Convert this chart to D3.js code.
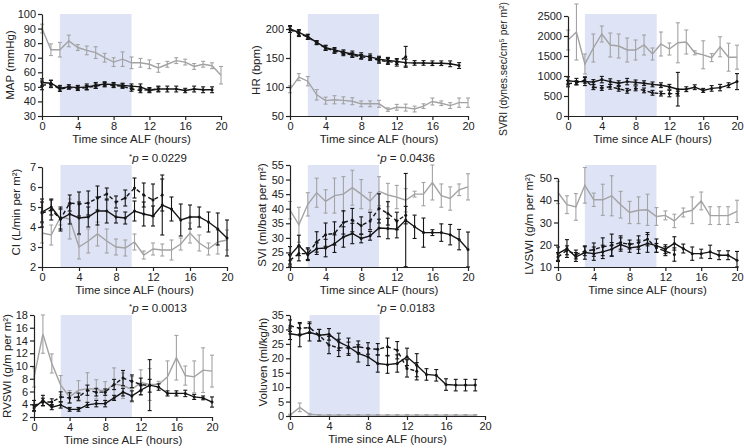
<!DOCTYPE html>
<html><head><meta charset="utf-8">
<script src="https://cdn.jsdelivr.net/npm/d3@7"></script>
<style>body{margin:0;background:#fff}svg{display:block}text{font-family:"Liberation Sans",Arial,sans-serif;fill:#222}</style>
</head><body><svg id="c" width="744" height="448"></svg>
<script>
// ---- data ----
const hours = [0,1,2,3,4,5,6,7,8,9,10,11,12,13,14,15,16,17,18,19,20];
const xTicks = [0,4,8,12,16,20];

const mapGray = [90,75.5,75.5,81.5,77,75,73.5,70,67,69,66.5,66.5,65.5,63,65.5,68,67,64,65.5,64.5,58];
const mapGrayErr = [3,4,5,4,2,3,4,3,3,5,4,3,3,3,2,2,2,2,2,2,6];
const mapSolid = [53,52.5,49,50,49.5,50,51,52,51.5,51,50.5,50,47.5,48.5,48.5,48.5,47.5,48.5,48,48];
const mapSolidErr = [2.5,2,2,1.5,1.5,2,2,1.5,1.5,1.5,1.5,2,1.5,2,2,2,1.5,2,2,2];
const mapDash = [51,52,48.5,49.5,49,49.5,50.5,51.5,51,50.5,48.5,47.5,48,48.5];
const mapDashErr = [3,2.5,1.5,1,1.5,1.5,1.5,1.5,1.5,1.5,1.5,1.5,1.5,1.5];
const mapTicks = [30,40,50,60,70,80,90,100];

const hrGray = [96,117,110,86.5,76.5,78,77,75.5,71,71,71,61,65,64.5,62,67,75,72,68,73,73];
const hrGrayErr = [6,6,8,9,6,7,6,6,5,5,6,3,5,6,5,4,6,4,5,8,8];
const hrSolid = [200,194,187,177,168,164,160,157,154,152,148,146,144,142,141.5,141.5,141,141,140,137];
const hrSolidErr = [6,5,4,3,4,4,4,5,5,5,5,5,5,6,4,4,4,4,5,5];
const hrDash = [199,192,186,176,167,162,158,155,152,150,146,144,142,152];
const hrDashErr = [5,5,4,3,4,4,4,4,4,4,5,5,6,18];
const hrTicks = [50,100,150,200];

const svriGray = [1900,2100,1300,1700,2050,1775,1750,1650,1650,1775,1550,1800,1675,1830,1850,1580,1530,1460,1730,1470,1470];
const svriGrayErr = [250,700,250,350,200,300,300,300,250,250,150,300,150,500,300,50,350,100,250,350,300];
const svriSolid = [880,860,860,850,910,860,820,860,840,820,790,770,730,670,670,720,640,690,710,770,860];
const svriSolidErr = [100,80,100,60,80,70,60,80,60,60,60,60,60,420,60,60,50,70,80,60,200];
const svriDash = [810,830,900,720,700,730,680,630,690,640,580,560,560,560];
const svriDashErr = [80,50,80,60,60,60,60,60,60,60,60,60,80,60];
const svriTicks = [0,500,1000,1500,2000,2500];

const ciGray = [3.7,3.6,4.5,4.4,3.0,3.3,3.65,3.3,3.0,2.95,3.25,2.6,2.9,2.85,2.85,3.15,3.7,3.2,2.9,3.25,3.35];
const ciGrayErr = [0.5,0.5,0.4,1.0,0.6,0.6,0.6,0.6,0.4,0.4,0.4,0.2,0.3,0.3,0.5,0.3,0.5,0.4,0.3,0.6,0.5];
const ciSolid = [4.75,5.0,4.4,4.65,4.45,4.5,4.8,4.8,4.5,4.45,4.8,4.65,4.55,5.1,4.9,4.35,4.5,4.5,4.25,3.9,3.45];
const ciSolidErr = [0.5,0.4,0.5,0.5,0.8,0.5,0.7,0.6,0.3,0.3,0.5,0.6,0.5,1.5,0.6,0.8,0.6,0.5,0.5,0.8,0.9];
const ciDash = [4.7,4.85,4.4,5.2,5.15,5.2,5.45,5.65,5.25,5.45,5.95,5.6,5.35,5.6];
const ciDashErr = [0.7,0.5,0.6,0.4,0.6,0.6,0.6,0.3,0.3,0.4,0.5,0.6,0.8,0.8];
const ciTicks = [2,3,4,5,6,7];

const sviGray = [39.5,34.5,41.5,45.5,42.5,44.5,45,47.2,45,42.6,46,44.7,44,42.9,45,45,49,44.5,43.5,46.5,47.5];
const sviGrayErr = [3,6,4,5,4,6,6,6,5,3,5,4,4,4,1,4,6,4,4,2,4.5];
const sviSolid = [24,27.4,24.2,26.3,26.5,28,30.3,31.5,29.8,30.7,33.4,33.2,33,36.1,33.8,31.8,31.8,31.8,31.1,29.4,26];
const sviSolidErr = [3,3.5,2,2,3,3,3.5,3.5,1.5,1.5,3,3.5,3,16,4,5,1,3,3.5,3.5,6];
const sviDash = [22.3,24.6,24.6,28.6,31.1,31.5,35.3,36.1,34.2,35.8,40.1,38.4,35.8,37.8];
const sviDashErr = [2,2.5,2,3.5,4,4,4,4,3,3,5,4,3,3];
const sviTicks = [20,25,30,35,40,45,50,55];

const lvGray = [43.5,38,37,46.7,40.2,40.2,42,38,34.5,35.5,35.7,32.7,33.2,30.7,34.5,35.5,39.7,33.1,33.1,33.1,35];
const lvGrayErr = [5,4,6,8,3,7,9,6,5,6,7,4,2,3,2,6,4,4,4,4,5];
const lvSolid = [16,18.3,14.5,16.5,16,16.8,18,20.1,18.6,19.1,20.6,19.6,18,20.6,18.3,16,16,16.8,15.3,15.3,13];
const lvSolidErr = [3,4,2,3,3,3,3,3,2,3,4,3,2,3,2,3,2,3,2,2,4];
const lvDash = [14.5,17.5,15.6,17.1,17.8,19.1,19.8,21,20.1,21,22.5,18.6,17.1,15.6];
const lvDashErr = [2,2,2,2,3,4,5,3,2,3,3,2,2,3];
const lvTicks = [10,20,30,40,50];

const rvGray = [8.2,15,10.4,7.0,5.15,6.2,6.45,6.35,6.05,7.2,6.9,6.35,7.4,7.1,7.1,8.3,11.3,8.5,8.3,9.35,9.2];
const rvGrayErr = [1.5,3,1.5,1.5,1,1.5,2.5,1.5,1.5,2.5,2,2,2,2.5,0.5,2.5,3.5,1.5,2.5,3.5,2.5];
const rvSolid = [3.4,4.6,3.55,3.9,3.2,3.2,3.9,4.1,4.1,5.0,5.9,5.3,6.2,7.0,6.7,5.7,5.7,5.7,5.15,5.0,4.35];
const rvSolidErr = [0.5,0.8,0.4,0.5,0.3,0.3,0.4,0.5,0.5,0.4,0.6,0.8,0.7,4,0.5,0.4,0.4,0.5,0.4,0.3,0.8];
const rvDash = [3.8,4.35,4.35,5.15,5.0,5.15,6.2,5.9,5.9,7.1,8.1,7.6,7.1,6.9];
const rvDashErr = [0.8,0.6,0.5,0.8,0.8,0.6,0.8,0.6,0.5,0.8,1.2,1,1,1];
const rvTicks = [2,4,6,8,10,12,14,16,18];

const volGray = [0.3,3.0,0.6,0.3,0.3,0.3,0.3,0.3,0.3,0.3,0.3,0.3,0.3,0.3,0.3,0.3,0.3,0.3,0.3,0.3];
const volGrayErr = [0.3,1.5,0.3,0.2,0.2,0.2,0.2,0.2,0.2,0.2,0.2,0.2,0.2,0.2,0.2,0.2,0.2,0.2,0.2,0.2];
const volSolid = [28.5,28,29,28,28.3,25.7,24,21.7,20.5,18.2,17.8,18.2,20.5,17.6,14.4,14.1,10.9,10.7,10.7,10.7];
const volSolidErr = [2,4,3,2,2,3,3,3,3,3,3,3,3,4,2,2,2,2,2,2];
const volDash = [31.3,30.4,30.6,28,24.6,23.6,23.6,24,23.4,23.1,24,22.8,16.5,15.5];
const volDashErr = [2,2,2,2,3,3,2,2,2,2,3,3,3,3];
const volTicks = [0,5,10,15,20,25,30,35];

const xTitle = "Time since ALF (hours)";

// ---- layout ----
const panels = [
 {yt:"MAP (mmHg)", ticks:mapTicks, x0:42,x1:221, yb:116, ytp:14, top:14, sh:[2,10], ytx:10, yty:65,
  g:[mapGray,mapGrayErr], s:[mapSolid,mapSolidErr], d:[mapDash,mapDashErr]},
 {yt:"HR (bpm)", ticks:hrTicks, x0:290,x1:468, yb:116, ytp:29, top:14, sh:[2,10], ytx:256, yty:70,
  g:[hrGray,hrGrayErr], s:[hrSolid,hrSolidErr], d:[hrDash,hrDashErr]},
 {yt:"SVRI (dynes.sec/cm\u2075 per m\u00b2)", ticks:svriTicks, x0:568,x1:737, yb:116, ytp:16, top:14, sh:[2,10.5], ytx:503, yty:69,
  g:[svriGray,svriGrayErr], s:[svriSolid,svriSolidErr], d:[svriDash,svriDashErr]},
 {yt:"CI (L/min per m\u00b2)", ticks:ciTicks, x0:42,x1:227, yb:267, ytp:167, top:165, sh:[2,9.7], ytx:16, yty:212, p:"0.0229", px:158,
  g:[ciGray,ciGrayErr], s:[ciSolid,ciSolidErr], d:[ciDash,ciDashErr]},
 {yt:"SVI (ml/beat per m\u00b2)", ticks:sviTicks, x0:290,x1:468, yb:267, ytp:165, top:165, sh:[2,10], ytx:262, yty:215, p:"0.0436", px:406,
  g:[sviGray,sviGrayErr], s:[sviSolid,sviSolidErr], d:[sviDash,sviDashErr]},
 {yt:"LVSWI (g/m per m\u00b2)", ticks:lvTicks, x0:558,x1:737, yb:267, ytp:178, top:165, sh:[3,11], ytx:529, yty:224,
  g:[lvGray,lvGrayErr], s:[lvSolid,lvSolidErr], d:[lvDash,lvDashErr]},
 {yt:"RVSWI (g/m per m\u00b2)", ticks:rvTicks, x0:34,x1:212, yb:417, ytp:315, top:315, sh:[3,11], ytx:7, yty:366, p:"0.0013", px:158,
  g:[rvGray,rvGrayErr], s:[rvSolid,rvSolidErr], d:[rvDash,rvDashErr]},
 {yt:"Voluven (ml/kg/h)", ticks:volTicks, x0:290,x1:485, yb:416, ytp:315, top:315, sh:[2,9.2], ytx:263, yty:362, p:"0.0183", px:406,
  g:[volGray,volGrayErr], s:[volSolid,volSolidErr], d:[volDash,volDashErr]}
];

const svg = d3.select("#c");
const GRAY = "#a3a3a3", BLACK = "#151515", SHADE = "#dfe3f6";

panels.forEach(p => {
  const x = d3.scaleLinear().domain([0,20]).range([p.x0,p.x1]);
  const y = d3.scaleLinear().domain([p.ticks[0], p.ticks[p.ticks.length-1]]).range([p.yb,p.ytp]);
  const g = svg.append("g");
  g.append("rect").attr("x",x(p.sh[0])).attr("width",x(p.sh[1])-x(p.sh[0]))
    .attr("y",p.top).attr("height",p.yb-p.top).attr("fill",SHADE);

  const series = [
    {d:p.g, c:GRAY, dash:null, dots:false},
    {d:p.d, c:BLACK, dash:"4,3", dots:true},
    {d:p.s, c:BLACK, dash:null, dots:true}
  ];
  series.forEach(s => {
    const vals = s.d[0], errs = s.d[1];
    const pts = vals.map((v,i)=>({t:hours[i], v, e:errs[i]}));
    const line = d3.line().x(d=>x(d.t)).y(d=>y(d.v));
    g.append("path").datum(pts).attr("d",line).attr("fill","none")
      .attr("stroke",s.c).attr("stroke-width",1.4).attr("stroke-dasharray",s.dash);
    const eb = g.append("g").attr("stroke",s.c).attr("stroke-width",1.1);
    pts.forEach(d => {
      const lo = Math.max(y.domain()[0], d.v-d.e), hi = d.v+d.e;
      eb.append("line").attr("x1",x(d.t)).attr("x2",x(d.t)).attr("y1",y(lo)).attr("y2",y(hi));
      eb.append("line").attr("x1",x(d.t)-2).attr("x2",x(d.t)+2).attr("y1",y(hi)).attr("y2",y(hi));
      eb.append("line").attr("x1",x(d.t)-2).attr("x2",x(d.t)+2).attr("y1",y(lo)).attr("y2",y(lo));
    });
    if (s.dots) g.selectAll(null).data(pts).enter().append("circle")
      .attr("cx",d=>x(d.t)).attr("cy",d=>y(d.v)).attr("r",1.5).attr("fill",s.c);
  });

  const ax = g.append("g").attr("transform",`translate(0,${p.yb})`)
    .call(d3.axisBottom(x).tickValues(xTicks).tickFormat(d=>String(d)).tickSize(4).tickSizeOuter(0).tickPadding(2));
  const ay = g.append("g").attr("transform",`translate(${p.x0},0)`)
    .call(d3.axisLeft(y).tickValues(p.ticks).tickFormat(d=>String(d)).tickSize(4).tickSizeOuter(0).tickPadding(2));
  [ax,ay].forEach(a=>{
    a.selectAll("path,line").attr("stroke","#222").attr("stroke-width",1.2);
    a.selectAll("text").attr("font-size",11).attr("fill","#222").attr("font-family","Liberation Sans, Arial, sans-serif");
  });
  g.append("text").attr("x",(p.x0+p.x1)/2).attr("y",p.yb+27).attr("text-anchor","middle")
    .attr("font-size",11.5).text(xTitle);
  const yt = g.append("text").attr("transform",`translate(${p.ytx+4},${p.yty}) rotate(-90)`)
    .attr("text-anchor","middle").attr("font-size",11.5).text(p.yt);
  // shrink to fit vertically within the canvas if needed
  const len = yt.node().getComputedTextLength();
  const maxLen = 2*p.yty - 4;
  if (len > maxLen) yt.attr("font-size", 11.5*maxLen/len);
  if (p.p) {
    const t = g.append("text").attr("x",p.px).attr("y",p.top-3).attr("text-anchor","middle").attr("font-size",11.5);
    t.append("tspan").attr("font-size",8).attr("dy",-3).text("*");
    t.append("tspan").attr("font-style","italic").attr("dy",3).text("p");
    t.append("tspan").text(" = " + p.p);
  }
});
</script></body></html>
